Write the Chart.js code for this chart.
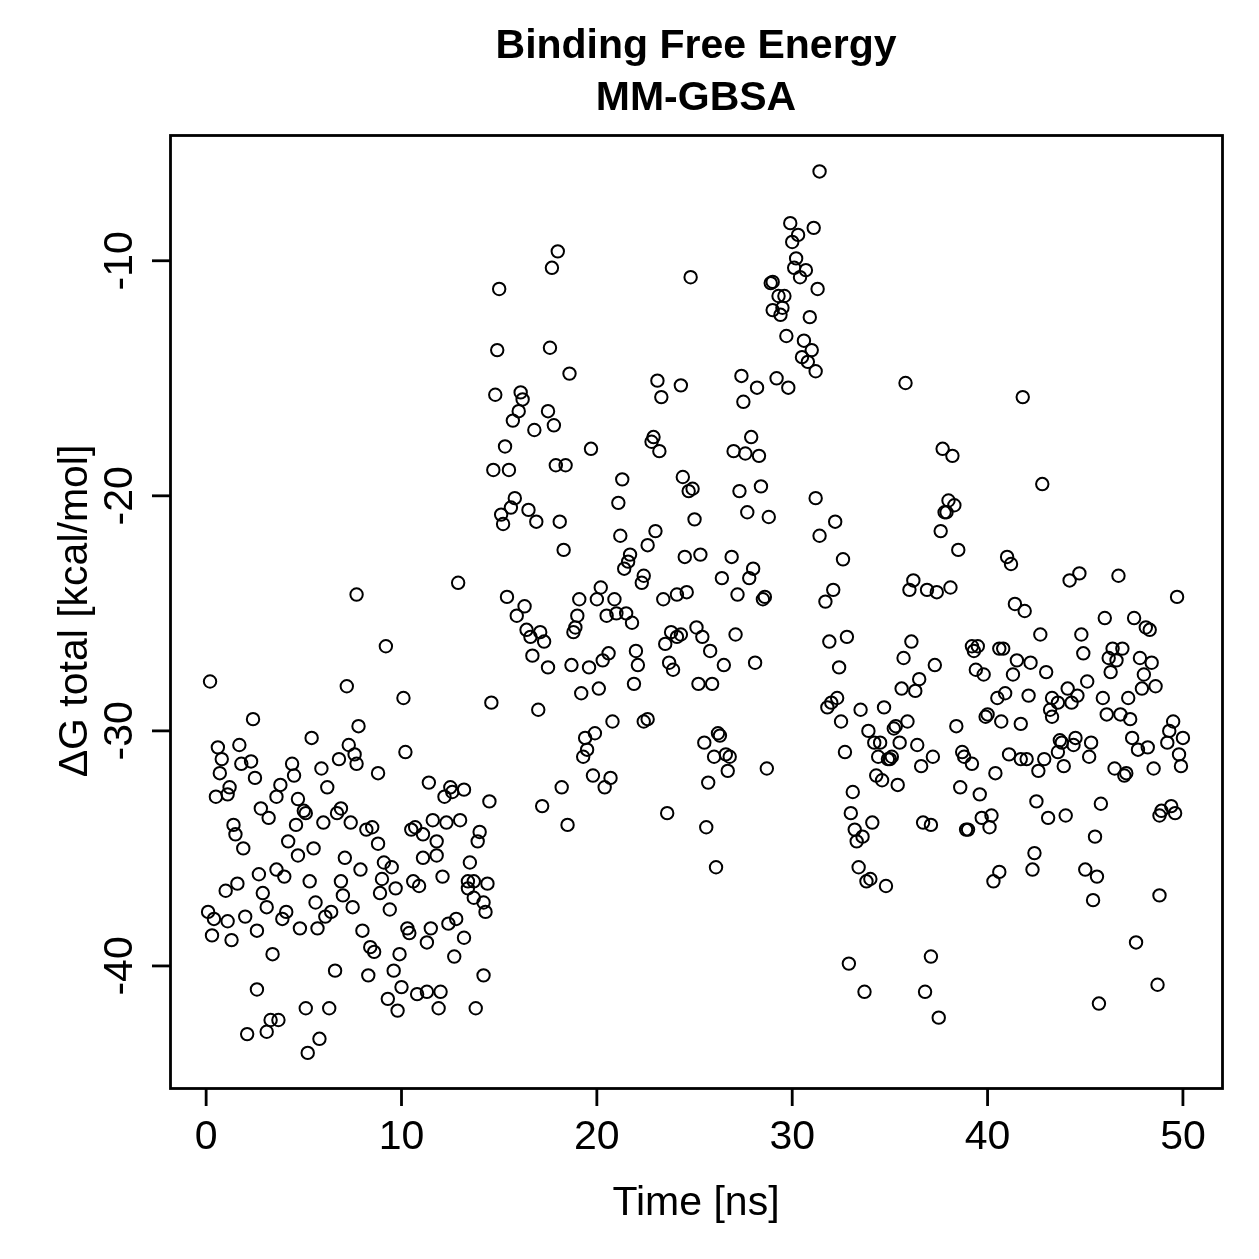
<!DOCTYPE html>
<html>
<head>
<meta charset="utf-8">
<title>Binding Free Energy MM-GBSA</title>
<script src="https://cdn.jsdelivr.net/npm/chart.js@4/dist/chart.umd.min.js"></script>
<style>
  body { margin: 0; background: #fff; }
  canvas { display: block; }
</style>
</head>
<body>
<canvas id="grafico" width="1259" height="1259"></canvas>
<script>
// time [ns] of each frame
var timeNs = [
  // 0 - 8 ns
  0.2,7.2,2.4,7.8,5.4,7.3,0.6,1.7,0.8,1.8,
  2.3,7.6,7.7,6.8,0.7,4.4,4.5,5.9,2.5,1.2,
  1.1,0.5,3.8,3.6,6.2,4.7,5.0,5.1,2.8,3.2,
  4.6,6.0,6.7,6.9,7.4,1.4,1.5,1.9,4.2,4.7,
  5.5,7.1,7.9,2.7,3.6,4.0,5.3,6.9,7.0,1.6,
  1.0,2.9,7.5,5.6,6.4,6.1,3.1,4.1,3.9,2.0,
  2.6,0.1,0.4,1.1,0.3,1.3,4.8,5.7,8.0,3.4,
  6.6,2.6,5.1,6.3,3.3,3.7,2.1,3.1,5.8,5.2,
  // 8 - 15 ns
  7.7,9.2,12.9,10.1,14.6,10.2,8.8,11.4,12.5,12.6,
  13.2,12.2,14.5,8.2,8.5,8.8,10.5,10.7,11.1,11.6,
  12.3,13.0,11.8,14.0,13.9,11.1,11.8,13.5,9.1,9.5,
  9.0,9.7,8.9,10.6,10.9,12.1,13.4,13.7,13.4,14.4,
  13.7,14.2,14.3,9.4,8.4,8.6,10.3,10.4,11.5,11.3,
  12.4,12.8,13.2,9.9,12.7,8.3,9.6,14.2,10.0,9.3,
  9.8,10.8,11.3,12.0,11.9,13.8,
  // 15 - 23 ns, upper part
  18.0,17.7,15.0,14.9,17.6,18.6,14.8,16.1,16.2,16.0,
  15.7,17.5,17.8,16.8,15.3,19.7,14.7,15.5,17.9,18.4,
  21.3,15.8,15.6,15.1,15.2,16.5,16.9,18.1,21.1,21.2,
  22.6,18.3,21.7,
  // 15 - 23 ns, lower part
  21.6,21.4,22.4,22.3,15.4,16.3,15.9,16.4,16.6,17.1,
  17.3,16.7,17.5,19.1,19.0,18.9,18.8,20.2,20.0,20.9,
  21.0,21.5,20.5,21.8,18.7,19.6,20.6,20.3,22.0,22.1,
  19.2,20.1,21.9,17.0,20.8,22.6,22.4,19.4,19.9,19.5,
  19.3,19.8,20.7,20.4,18.2,17.2,18.5,
  // 23 - 32 ns, upper part
  31.4,29.9,30.3,30.0,31.1,30.2,30.1,30.7,30.4,31.3,
  24.8,28.9,29.0,29.3,29.6,29.5,29.0,29.4,30.9,29.7,
  30.6,31.0,30.5,30.8,31.2,23.1,23.3,24.3,27.4,28.2,
  27.5,29.2,29.8,22.9,22.8,23.2,27.9,27.0,27.6,28.3,
  24.4,24.7,24.9,27.3,28.4,27.7,28.8,25.0,31.2,31.4,
  23.0,24.5,25.3,26.9,
  // 23 - 29 ns, lower part
  28.0,27.8,26.4,23.4,24.1,24.6,27.2,28.6,28.5,25.1,
  25.4,23.8,23.5,24.1,24.3,27.1,25.8,23.7,23.9,26.5,
  28.1,25.2,25.9,26.2,26.3,25.5,26.0,26.6,26.8,26.7,
  28.7,25.7,23.6,25.6,26.1,
  // 31 - 41 ns
  35.8,37.7,38.2,32.2,38.0,38.3,37.9,37.8,37.6,38.5,
  32.6,36.2,36.0,36.9,37.4,38.1,32.1,31.7,31.9,32.8,
  36.1,35.7,37.3,32.4,39.2,39.5,39.3,40.6,39.4,39.8,
  35.6,36.5,36.3,40.5,31.8,32.0,32.3,33.5,34.7,40.0,
  39.9,40.7,32.5,38.4,35.3,35.2,35.9,33.9,34.2,34.5,
  35.5,36.4,32.7,34.4,34.9,35.0,35.1,38.7,38.8,39.2,
  37.2,36.6,40.4,34.3,34.6,35.4,38.6,39.6,33.1,33.0,
  34.1,33.2,33.6,33.3,36.7,37.1,38.9,39.0,39.7,40.2,
  40.1,33.4,33.8,34.0,34.8,40.6,40.3,32.9,37.1,33.7,
  36.8,37.5,
  // 41 - 50 ns
  41.8,42.8,41.0,41.2,44.2,44.7,46.7,49.7,41.4,41.9,
  46.0,47.5,48.1,48.3,42.7,44.8,40.8,44.9,41.5,42.2,
  46.4,46.9,46.2,46.6,46.3,47.8,48.4,41.3,43.0,48.0,
  45.1,48.6,47.9,40.9,42.1,44.1,44.6,43.3,43.6,44.3,
  43.2,43.3,45.9,47.2,41.7,46.1,46.8,47.3,49.5,49.3,
  50.0,49.2,47.4,47.7,48.2,43.7,43.8,44.5,44.4,45.3,
  41.1,41.7,42.0,42.9,43.6,45.2,49.8,43.9,42.6,46.5,
  47.0,47.1,48.5,49.9,42.5,43.1,44.0,45.8,48.9,49.4,
  49.6,48.8,45.5,42.4,42.3,45.0,45.6,45.4,48.8,47.6,
  48.7,45.7
];

// delta G total [kcal/mol], same order as timeNs
var deltaG = [
  -27.9,-28.1,-29.5,-29.8,-30.3,-30.6,-30.7,-30.6,-31.2,-31.4,
  -31.3,-31.0,-31.4,-31.2,-31.8,-31.4,-31.9,-31.6,-32.0,-32.4,
  -32.7,-32.8,-32.3,-32.8,-32.4,-32.9,-33.4,-33.5,-33.3,-33.7,
  -34.0,-33.9,-33.5,-33.3,-33.9,-34.0,-34.4,-35.0,-34.7,-35.3,
  -35.0,-35.4,-35.9,-36.1,-35.9,-36.2,-36.4,-36.4,-37.0,-36.5,
  -36.8,-36.9,-37.5,-37.3,-37.7,-37.9,-37.5,-37.7,-38.0,-37.9,
  -38.5,-37.7,-38.0,-38.1,-38.7,-38.9,-38.4,-38.4,-38.5,-39.5,
  -40.2,-41.0,-41.8,-41.8,-42.3,-42.3,-42.9,-42.8,-43.1,-43.7,

  -24.2,-26.4,-23.7,-28.6,-28.8,-30.9,-31.8,-32.2,-32.4,-32.6,
  -32.5,-32.8,-33.0,-34.2,-34.1,-34.8,-34.2,-34.1,-34.4,-33.8,
  -33.9,-33.8,-34.7,-34.3,-34.7,-35.4,-35.3,-35.6,-35.6,-35.8,
  -36.3,-36.7,-36.9,-36.4,-36.6,-36.2,-36.4,-36.4,-36.7,-36.5,
  -37.1,-37.3,-37.7,-37.6,-39.2,-39.4,-38.4,-38.6,-38.4,-39.0,
  -38.2,-38.0,-38.8,-39.5,-39.6,-40.4,-40.2,-40.4,-40.9,-41.4,
  -41.9,-41.2,-41.1,-41.1,-41.8,-41.8,

  -9.6,-10.3,-11.2,-13.8,-13.7,-14.8,-15.7,-15.6,-15.9,-16.4,
  -16.8,-16.4,-17.0,-17.2,-17.9,-18.0,-18.9,-18.9,-18.7,-18.7,
  -19.3,-20.1,-20.5,-20.8,-21.2,-20.6,-21.1,-21.1,-20.3,-21.7,
  -22.1,-22.3,-22.5,

  -22.8,-23.1,-23.4,-23.7,-24.3,-24.7,-25.1,-25.7,-26.0,-25.8,
  -26.2,-26.8,-27.3,-24.4,-25.1,-25.6,-25.8,-23.9,-24.4,-24.4,
  -25.0,-25.0,-25.1,-25.4,-27.2,-27.3,-26.7,-27.0,-26.6,-27.2,
  -28.4,-28.2,-28.0,-29.1,-29.6,-29.5,-29.6,-30.3,-30.1,-30.8,
  -31.1,-31.9,-32.0,-32.4,-32.4,-33.2,-34.0,

  -6.2,-8.4,-8.9,-9.2,-8.6,-9.9,-10.3,-10.4,-10.7,-11.2,
  -10.7,-10.95,-10.9,-11.5,-11.5,-12.0,-12.1,-12.3,-12.4,-13.2,
  -13.4,-13.8,-14.1,-14.3,-14.7,-15.1,-15.8,-15.3,-14.9,-15.4,
  -16.0,-15.0,-15.4,-17.5,-17.7,-18.1,-17.5,-18.1,-18.2,-18.3,
  -19.2,-19.8,-19.7,-19.8,-19.6,-20.7,-20.9,-21.0,-20.1,-21.7,
  -21.5,-22.6,-22.5,-22.6,

  -23.1,-23.5,-23.5,-24.4,-24.2,-24.1,-24.2,-24.3,-24.4,-25.6,
  -26.0,-25.8,-26.3,-26.0,-25.9,-25.9,-26.6,-27.1,-27.4,-27.2,
  -27.1,-28.0,-28.0,-30.1,-30.2,-30.5,-31.1,-31.0,-31.1,-31.7,
  -31.6,-32.2,-33.5,-34.1,-35.8,

  -15.2,-18.0,-18.3,-21.1,-20.2,-20.4,-20.7,-20.7,-21.5,-22.3,
  -22.7,-23.6,-24.0,-24.0,-24.1,-23.9,-24.0,-24.5,-26.2,-26.0,
  -26.2,-26.9,-27.2,-27.3,-26.4,-26.4,-26.6,-26.5,-27.4,-27.6,
  -28.2,-27.8,-28.3,-28.6,-29.0,-28.8,-28.6,-29.1,-29.0,-29.3,
  -29.4,-29.6,-29.6,-29.8,-29.8,-29.9,-29.6,-30.0,-30.5,-30.5,
  -30.5,-30.6,-30.9,-31.1,-31.2,-31.2,-31.1,-30.9,-31.1,-31.4,
  -31.1,-31.5,-31.8,-31.9,-32.1,-32.3,-32.4,-32.7,-32.6,-33.5,
  -33.9,-34.2,-34.5,-34.7,-33.9,-34.0,-34.2,-34.2,-33.7,-33.6,
  -34.1,-35.8,-36.4,-36.3,-36.6,-36.0,-36.4,-39.9,-39.6,-41.1,
  -41.1,-42.2,

  -15.8,-19.5,-22.6,-22.9,-23.6,-23.3,-23.4,-24.3,-24.6,-24.9,
  -25.2,-25.2,-25.6,-25.7,-25.9,-25.9,-26.5,-26.7,-27.0,-27.1,
  -26.5,-26.5,-26.9,-27.0,-27.5,-26.9,-27.1,-27.6,-27.5,-27.6,
  -27.9,-28.1,-28.2,-28.4,-28.5,-28.2,-28.5,-28.6,-28.8,-28.8,
  -29.1,-29.4,-28.6,-28.6,-29.7,-29.3,-29.3,-29.5,-29.6,-30.0,
  -30.3,-30.5,-30.3,-30.8,-30.7,-30.4,-30.5,-30.3,-30.6,-30.5,
  -31.0,-31.2,-31.2,-31.2,-30.9,-31.1,-31.0,-31.5,-31.7,-31.6,
  -31.9,-31.8,-31.6,-31.5,-33.0,-33.7,-33.6,-33.1,-33.4,-33.2,
  -33.5,-33.6,-34.5,-35.2,-35.9,-35.9,-36.2,-37.2,-37.0,-39.0,
  -40.8,-41.6
];

var xTicks = [0, 10, 20, 30, 40, 50];
var yTicks = [-10, -20, -30, -40];
var titolo = ['Binding Free Energy', 'MM-GBSA'];
var xLabel = 'Time [ns]';
var yLabel = '\u0394G total [kcal/mol]';

var font = '"Liberation Sans", Arial, Helvetica, sans-serif';

var punti = timeNs.map(function (t, i) {
   return { x: t, y: deltaG[i] };
});

// R-like frame, ticks and texts drawn around the chart area
var assiR = {
   id: 'assiR',
   beforeDraw: function (chart) {
      var ctx = chart.ctx;
      ctx.save();
      ctx.fillStyle = '#fff';
      ctx.fillRect(0, 0, chart.width, chart.height);
      ctx.restore();
   },
   afterDraw: function (chart) {
      var ctx = chart.ctx;
      var area = chart.chartArea;
      var xs = chart.scales.x;
      var ys = chart.scales.y;

      ctx.save();
      ctx.strokeStyle = '#000';
      ctx.fillStyle = '#000';
      ctx.lineWidth = 2.8;
      ctx.strokeRect(area.left + 0.5, area.top + 0.5, area.right - area.left, area.bottom - area.top + 1);

      ctx.font = '41px ' + font;
      ctx.textAlign = 'center';
      ctx.textBaseline = 'alphabetic';

      xTicks.forEach(function (v) {
         var px = xs.getPixelForValue(v);
         ctx.beginPath();
         ctx.moveTo(px, area.bottom + 1);
         ctx.lineTo(px, area.bottom + 19);
         ctx.stroke();
         ctx.fillText(String(v), px, area.bottom + 62);
      });

      yTicks.forEach(function (v) {
         var py = ys.getPixelForValue(v);
         ctx.beginPath();
         ctx.moveTo(area.left, py);
         ctx.lineTo(area.left - 18, py);
         ctx.stroke();
         ctx.save();
         ctx.translate(area.left - 38, py);
         ctx.rotate(-Math.PI / 2);
         ctx.fillText(String(v), 0, 0);
         ctx.restore();
      });

      var cx = (area.left + area.right) / 2;
      var cy = (area.top + area.bottom) / 2;

      ctx.fillText(xLabel, cx, 1215);

      ctx.save();
      ctx.translate(87, cy);
      ctx.rotate(-Math.PI / 2);
      ctx.fillText(yLabel, 0, 0);
      ctx.restore();

      ctx.font = 'bold 41px ' + font;
      ctx.fillText(titolo[0], cx, 58);
      ctx.fillText(titolo[1], cx, 110);
      ctx.restore();
   }
};

var ctx = document.getElementById('grafico').getContext('2d');
var myChart = new Chart(ctx, {
   type: 'scatter',
   data: {
      datasets: [{
         label: 'deltaG',
         data: punti,
         pointStyle: 'circle',
         pointRadius: 6.2,
         pointBorderWidth: 2,
         borderColor: '#000',
         backgroundColor: 'rgba(0,0,0,0)'
      }]
   },
   options: {
      responsive: false,
      animation: false,
      layout: {
         padding: { left: 170, top: 135, right: 37, bottom: 172 }
      },
      plugins: {
         legend: { display: false },
         tooltip: { enabled: false }
      },
      scales: {
         x: { type: 'linear', min: -1.85, max: 52.0, display: false },
         y: { type: 'linear', min: -45.15, max: -4.65, display: false }
      }
   },
   plugins: [assiR]
});
</script>
</body>
</html>
